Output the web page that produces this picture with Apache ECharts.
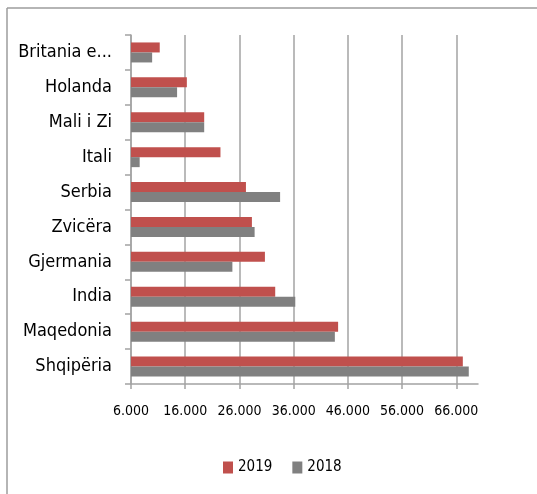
<!DOCTYPE html>
<html>
<head>
<meta charset="utf-8">
<script src="https://cdn.jsdelivr.net/npm/echarts@6/dist/echarts.min.js"></script>
<style>
  html, body { margin: 0; padding: 0; background: #fff; }
  #chart { width: 537px; height: 494px; }
</style>
</head>
<body>
<div id="chart"></div>
<script>
// categories listed bottom to top, as the y axis runs
const countries = ['Shqipëria', 'Maqedonia', 'India', 'Gjermania', 'Zvicëra', 'Serbia', 'Itali', 'Mali i Zi', 'Holanda', 'Britania e Madhe']
const values2019 = [67200, 44200, 32600, 30700, 28300, 27200, 22500, 19500, 16300, 11300]
const values2018 = [68300, 43600, 36300, 24700, 28800, 33500, 7600, 19500, 14500, 9900]
const seriesNames = ['2019', '2018']
const xMin = 6000
const xMax = 70000
const xStep = 10000

const font = "'DejaVu Sans Condensed', 'Liberation Sans', sans-serif"
const gridColor = '#a3a3a3'

// thousands with a dot, like the source
function fmt(v) {
  return String(v).replace(/\B(?=(\d{3})+(?!\d))/g, '.')
}

// long names get cut the way the source cuts them
function shorten(name) {
  return name.length > 12 ? name.slice(0, 10) + '...' : name
}

const chart = echarts.init(document.getElementById('chart'), null, { renderer: 'canvas' })

chart.setOption({
  animation: false,
  backgroundColor: '#fff',
  textStyle: { fontFamily: font },
  grid: { left: 131, top: 35, right: 59, bottom: 110, containLabel: false },
  legend: {
    data: seriesNames,
    left: 218,
    top: 455,
    itemWidth: 10,
    itemHeight: 12,
    itemGap: 20,
    icon: 'rect',
    textStyle: { fontFamily: font, fontSize: 15, color: '#000' },
  },
  xAxis: {
    type: 'value',
    min: xMin,
    max: xMax,
    interval: xStep,
    axisLine: { show: true, lineStyle: { color: gridColor, width: 1.5 } },
    axisTick: { show: true, length: 5, lineStyle: { color: gridColor, width: 1.5 } },
    axisLabel: {
      margin: 20,
      fontSize: 14,
      color: '#000',
      fontFamily: font,
      showMaxLabel: false,
      formatter: fmt,
    },
    splitLine: {
      show: true,
      lineStyle: {
        color: [gridColor, gridColor, gridColor, gridColor, gridColor, gridColor, gridColor, 'rgba(0,0,0,0)'],
        width: 1.5,
      },
    },
  },
  yAxis: {
    type: 'category',
    data: countries,
    axisLine: { show: true, lineStyle: { color: gridColor, width: 1.5 } },
    axisTick: { show: true, length: 6, lineStyle: { color: gridColor, width: 1.5 } },
    axisLabel: {
      margin: 19,
      fontSize: 18,
      color: '#000',
      fontFamily: font,
      formatter: shorten,
    },
  },
  series: [
    {
      name: seriesNames[0],
      type: 'bar',
      data: values2019,
      barWidth: 10,
      barGap: '0%',
      itemStyle: { color: '#c0504d' },
    },
    {
      name: seriesNames[1],
      type: 'bar',
      data: values2018,
      barWidth: 10,
      barGap: '0%',
      itemStyle: { color: '#808080' },
    },
  ],
  graphic: [
    { type: 'line', shape: { x1: 7, y1: 8, x2: 537, y2: 8 }, style: { stroke: '#9c9c9c', lineWidth: 1.5 } },
    { type: 'line', shape: { x1: 7, y1: 8, x2: 7, y2: 494 }, style: { stroke: '#9c9c9c', lineWidth: 1.5 } },
  ],
})
</script>
</body>
</html>
